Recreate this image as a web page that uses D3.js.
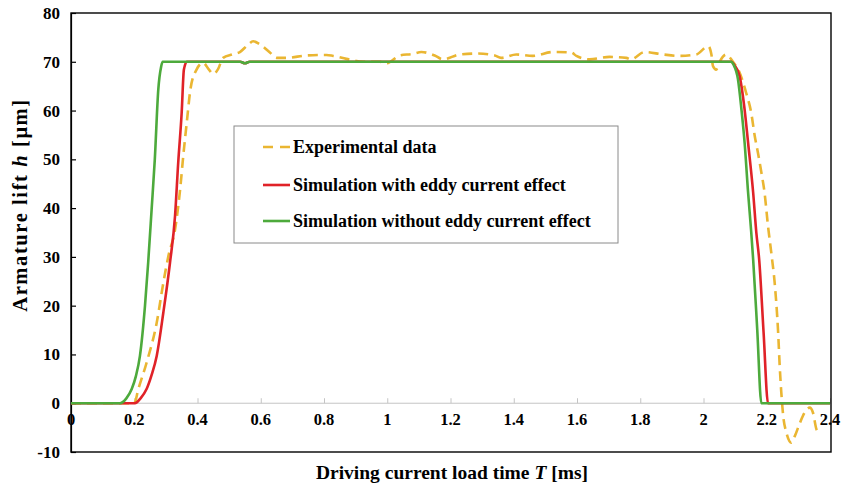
<!DOCTYPE html>
<html>
<head>
<meta charset="utf-8">
<script src="https://cdn.jsdelivr.net/npm/d3@7/dist/d3.min.js"></script>
<style>
  html, body { margin: 0; padding: 0; background: #fff; }
  svg { display: block; }
  text { font-family: "Liberation Serif", "Times New Roman", serif; font-weight: bold; fill: #000; }
</style>
</head>
<body>
<svg id="chart" width="844" height="488"></svg>
<script>
// ---- Data ----
const xTicks = [0, 0.2, 0.4, 0.6, 0.8, 1, 1.2, 1.4, 1.6, 1.8, 2, 2.2, 2.4];
const yTicks = [-10, 0, 10, 20, 30, 40, 50, 60, 70, 80];

const seriesNames = ["Experimental data", "Simulation with eddy current effect", "Simulation without eddy current effect"];

const timeExp = [0, 0.2, 0.213, 0.239, 0.271, 0.292, 0.308, 0.329, 0.345, 0.355, 0.366, 0.378, 0.397, 0.418, 0.435, 0.45, 0.465, 0.481, 0.51, 0.534, 0.56, 0.576, 0.597, 0.629, 0.65, 0.682, 0.745, 0.808, 0.829, 0.871, 0.924, 0.977, 0.998, 1.04, 1.08, 1.108, 1.15, 1.176, 1.229, 1.286, 1.34, 1.36, 1.408, 1.46, 1.524, 1.582, 1.598, 1.64, 1.703, 1.756, 1.77, 1.814, 1.872, 1.925, 1.977, 2.015, 2.025, 2.03, 2.04, 2.051, 2.072, 2.093, 2.114, 2.135, 2.151, 2.162, 2.172, 2.183, 2.193, 2.204, 2.215, 2.225, 2.236, 2.241, 2.246, 2.252, 2.262, 2.278, 2.289, 2.305, 2.32, 2.336, 2.346, 2.357, 2.362];
const liftExp = [0, 0, 2.9, 8.3, 16.5, 24.7, 30.2, 35.6, 43.8, 50.7, 57.5, 64.5, 68.4, 69.8, 68.5, 67.5, 68.5, 70.8, 71.5, 72, 73.5, 74.2, 73.6, 71.9, 70.8, 70.8, 71.3, 71.4, 71.2, 70.6, 70, 70, 69.7, 71.3, 71.6, 72, 71.3, 70.5, 71.5, 71.7, 71.3, 70.8, 71.5, 71.2, 72, 71.9, 71.2, 70.5, 71, 70.8, 70.5, 72, 71.5, 71.2, 71.5, 73.2, 71.5, 69.1, 68.4, 70, 71.5, 70, 67.8, 63.6, 59.5, 54.8, 51.4, 47.3, 43.2, 36.3, 30.5, 24.7, 14.5, 7.6, 2.2, -2.6, -6, -8.1, -6.7, -4, -1.9, -0.9, -1.9, -5.3, -5.9];

const timeEddy = [0, 0.202, 0.22, 0.239, 0.255, 0.271, 0.292, 0.313, 0.329, 0.339, 0.35, 0.357, 0.366, 0.535, 0.55, 0.565, 2.088, 2.098, 2.114, 2.13, 2.141, 2.157, 2.167, 2.176, 2.19, 2.204, 2.4];
const liftEddy = [0, 0, 1, 2.9, 5.8, 9.7, 18.6, 28.8, 38.4, 49.3, 59.6, 68.4, 70, 70, 69.7, 70, 70, 69.3, 67.1, 60.2, 53.4, 43.2, 35, 29.5, 14.5, 0, 0];

const timeNoEddy = [0, 0.155, 0.175, 0.192, 0.205, 0.218, 0.234, 0.244, 0.255, 0.265, 0.276, 0.285, 0.29, 0.535, 0.55, 0.565, 2.088, 2.095, 2.109, 2.12, 2.13, 2.141, 2.151, 2.157, 2.17, 2.183, 2.4];
const liftNoEddy = [0, 0, 1, 2.9, 5.5, 9.7, 20, 28.8, 39.8, 50, 64.3, 69, 70, 70, 69.7, 70, 70, 69.4, 66.4, 60.2, 53.4, 43.2, 35, 29.5, 15, 0, 0];

// ---- Layout ----
const svg = d3.select("#chart");
const L = 71, R = 831, T = 13, B = 452;
const x = d3.scaleLinear().domain([0, 2.4]).range([L, 830]);
const y = d3.scaleLinear().domain([-10, 80]).range([B, T]);

const colors = { exp: "#EAB632", eddy: "#E02228", noEddy: "#4DAA3C" };

// x axis at zero (grey)
const xAxis = d3.axisTop(x).tickValues(xTicks).tickSize(5).tickFormat("");
const gx = svg.append("g").attr("transform", `translate(0,${y(0)})`).call(xAxis);
gx.selectAll("path, line").attr("stroke", "#c4c4c4").attr("stroke-width", 1);
gx.select(".domain").attr("d", `M${L},0H${R}`);

// x tick labels
svg.append("g").selectAll("text").data(xTicks).join("text")
  .attr("x", d => x(d)).attr("y", y(0) + 22)
  .attr("text-anchor", "middle").attr("font-size", 16.5)
  .text(d => d3.format("")(d));

// y axis
const yAxis = d3.axisRight(y).tickValues(yTicks).tickSize(5).tickFormat("");
const gy = svg.append("g").attr("transform", `translate(${L},0)`).call(yAxis);
gy.selectAll("path, line").attr("stroke", "#000").attr("stroke-width", 1.2);
svg.append("g").selectAll("text").data(yTicks).join("text")
  .attr("x", 60).attr("y", d => y(d) + 6)
  .attr("text-anchor", "end").attr("font-size", 17)
  .text(d => d);

// frame
svg.append("rect").attr("x", L).attr("y", T).attr("width", R - L).attr("height", B - T)
  .attr("fill", "none").attr("stroke", "#000").attr("stroke-width", 1.4);

// lines
const line = d3.line().x(d => x(d[0])).y(d => y(d[1])).curve(d3.curveMonotoneX);
const zip = (a, b) => a.map((v, i) => [v, b[i]]);

svg.append("path").datum(zip(timeExp, liftExp)).attr("d", line)
  .attr("fill", "none").attr("stroke", colors.exp).attr("stroke-width", 2.6)
  .attr("stroke-dasharray", "10,6");
svg.append("path").datum(zip(timeEddy, liftEddy)).attr("d", line)
  .attr("fill", "none").attr("stroke", colors.eddy).attr("stroke-width", 2.6);
svg.append("path").datum(zip(timeNoEddy, liftNoEddy)).attr("d", line)
  .attr("fill", "none").attr("stroke", colors.noEddy).attr("stroke-width", 2.6);

// legend
const lg = svg.append("g");
lg.append("rect").attr("x", 234).attr("y", 126).attr("width", 384).attr("height", 117)
  .attr("fill", "#fff").attr("stroke", "#8a8a8a").attr("stroke-width", 1);
const legendRows = [
  { name: seriesNames[0], color: colors.exp, dash: "10,7", yy: 147 },
  { name: seriesNames[1], color: colors.eddy, dash: null, yy: 185 },
  { name: seriesNames[2], color: colors.noEddy, dash: null, yy: 221 }
];
legendRows.forEach(r => {
  lg.append("line").attr("x1", 263).attr("x2", 290).attr("y1", r.yy).attr("y2", r.yy)
    .attr("stroke", r.color).attr("stroke-width", 2.6)
    .attr("stroke-dasharray", r.dash);
  lg.append("text").attr("x", 293).attr("y", r.yy + 6).attr("font-size", 18).text(r.name);
});

// axis titles
svg.append("text").attr("x", 452).attr("y", 479).attr("text-anchor", "middle").attr("font-size", 19.5)
  .html('Driving current load time <tspan font-style="italic">T</tspan> [ms]');
svg.append("text").attr("transform", "translate(27,205) rotate(-90)").attr("text-anchor", "middle")
  .attr("font-size", 20.5).attr("letter-spacing", 1.6)
  .html('Armature lift <tspan font-style="italic">h</tspan> [μm]');
</script>
</body>
</html>
